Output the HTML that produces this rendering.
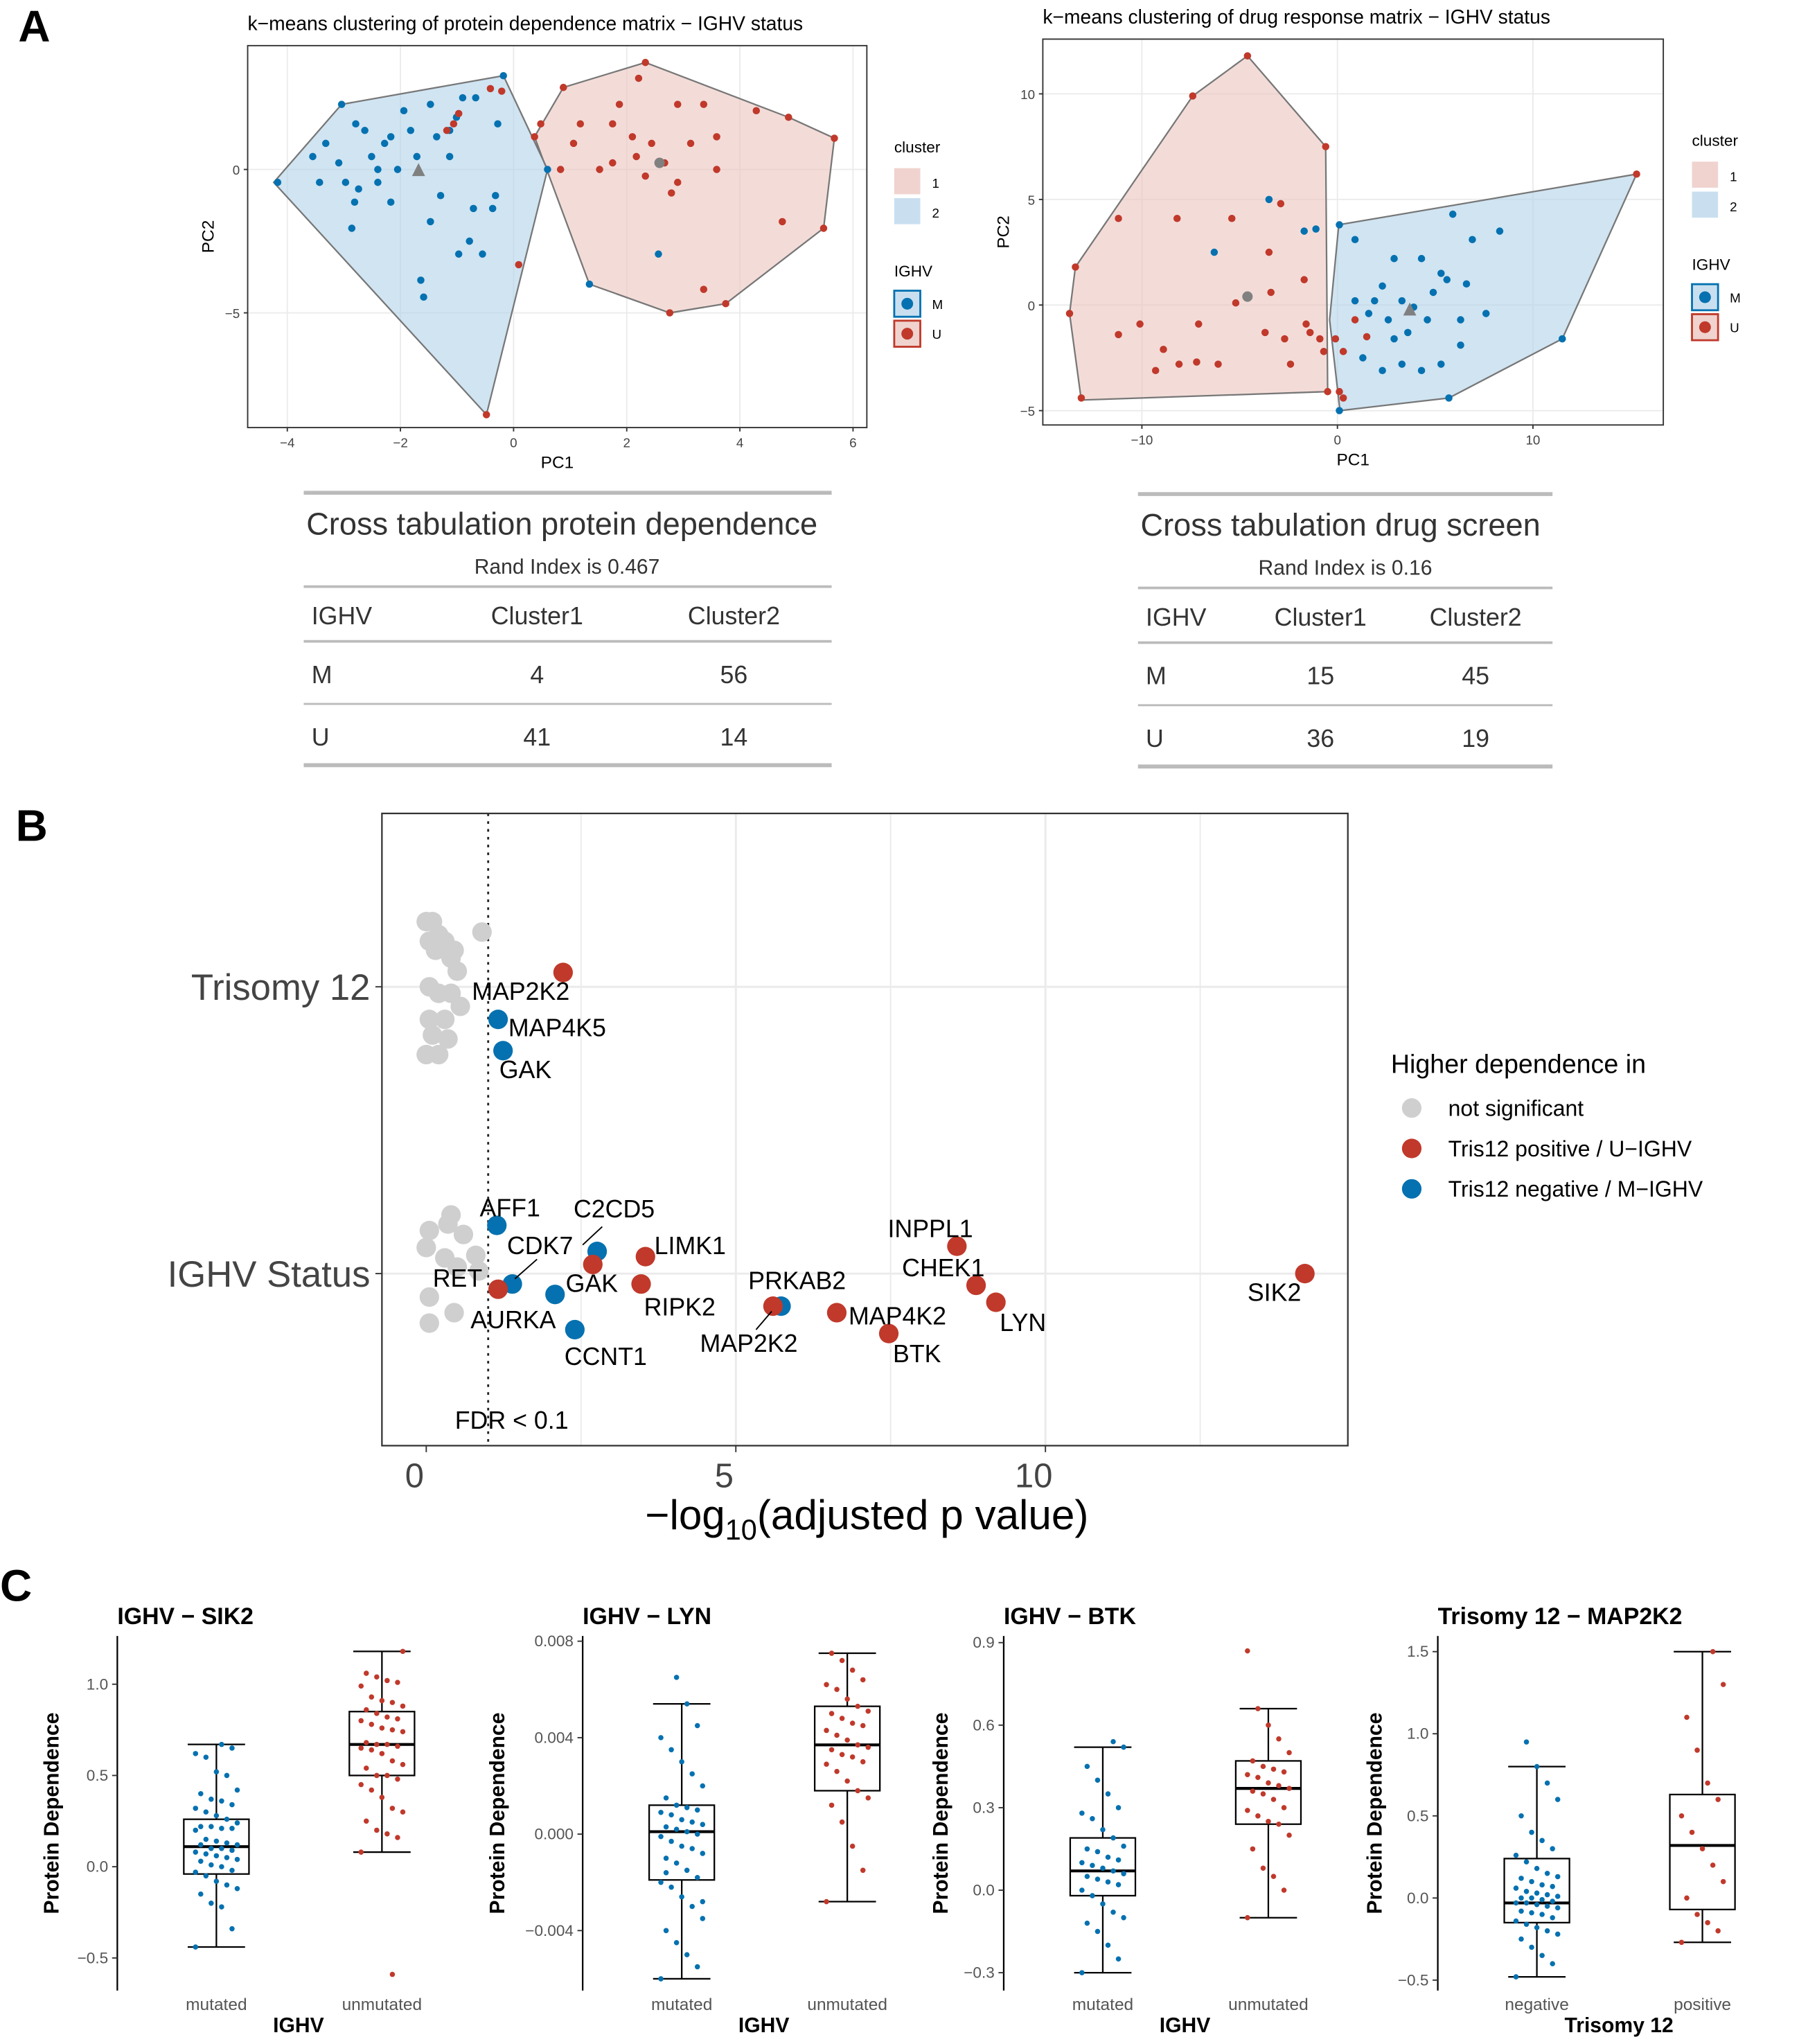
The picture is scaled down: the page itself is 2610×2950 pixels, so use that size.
<!DOCTYPE html>
<html><head><meta charset="utf-8"><style>
html,body{margin:0;padding:0;background:#fff}
svg{display:block;font-family:"Liberation Sans",sans-serif}
</style></head><body>
<svg id="fig" width="2610" height="2950" viewBox="0 0 1387 1568" preserveAspectRatio="none" xmlns="http://www.w3.org/2000/svg"></svg>
<script>
// ---------- DATA ----------
// Panel A left (protein dependence PCA)
const aLeftBlueX=[-3.04,-4.17,-2.79,-3.32,-2.97,-2.81,-2.86,-2.17,-1.82,-2.4,-2.05,-1.71,-1.13,-1.01,-1.29,-0.32,-0.37,-0.71,-0.78,-0.55,-1.64,-1.59,-1.13,-1.47,-1.94,-2.51,-3.55,-3.09,-2.4,-2.17,-0.9,-0.28,-0.67,-2.63,-1.36,-2.28,-3.43,-2.74,-1.47,-0.97,-0.18,0.6,2.56,1.34];
const aLeftBlueY=[2.27,-0.45,1.59,0.91,-0.45,-1.14,-2.05,1.14,1.36,0,0,0.45,1.36,1.82,-0.91,-0.91,-1.36,-1.36,-2.5,-2.95,-3.86,-4.45,0.45,2.27,2.05,0.45,0.45,0.23,-0.45,-1.14,2.5,1.59,2.5,1.36,1.14,0.91,-0.45,-0.68,-1.82,-2.95,3.27,0,-2.95,-4];
const aLeftRedX=[-0.41,-0.21,-1.18,-1.06,-0.97,-0.48,0.09,0.88,2.33,4.86,5.67,5.48,3.75,2.76,0.37,2.21,2.9,3.36,2.1,1.75,2.44,2.67,2.9,2.79,2.33,3.59,3.59,1.52,0.83,1.06,4.29,4.75,3.36,1.75,1.87,1.18,0.48,2.17,3.13];
const aLeftRedY=[2.82,2.73,1.36,1.59,1.95,-8.55,-3.32,2.86,3.73,1.82,1.09,-2.05,-4.68,-5,1.14,3.18,2.27,2.27,1.14,1.59,0.91,0.23,-0.45,-0.82,-0.23,1.14,0,0,0,0.91,2.05,-1.82,-4.18,0.23,2.27,1.59,1.59,0.45,0.91];
const aLeftHull2X=[-4.24,-3.04,-0.18,0.6,-0.48];
const aLeftHull2Y=[-0.45,2.27,3.27,0,-8.55];
const aLeftHull1X=[0.88,2.33,4.86,5.67,5.48,3.75,2.76,1.34,0.37];
const aLeftHull1Y=[2.86,3.73,1.82,1.09,-2.05,-4.68,-5,-4,1.14];
const aLeftTicksX=[-4,-2,0,2,4,6];
const aLeftTicksY=[0,-5];
// Panel A right (drug response PCA)
const aRightRedX=[-4.6,-7.4,-13.4,-13.7,-13.1,-0.5,-0.6,-11.2,-8.2,-5.4,-2.9,-3.5,-1.7,-4.6,-7.1,-10.1,-11.2,-8.9,-8.1,-6.1,-7.2,-9.3,-3.4,-3.7,-2.7,-2.4,-1.4,-0.9,-0.7,-0.1,0.1,0.3,0.3,1.5,0.9,15.3,-5.2,-1.6];
const aRightRedY=[11.8,9.9,1.8,-0.4,-4.4,-4.1,7.5,4.1,4.1,4.1,4.8,2.5,1.2,0.4,-0.9,-0.9,-1.4,-2.1,-2.8,-2.8,-2.7,-3.1,0.6,-1.3,-1.6,-2.8,-1.3,-1.6,-2.2,-1.6,-4.1,-4.4,-2.2,-1.5,-0.7,6.2,0.1,-0.9];
const aRightBlueX=[0.1,11.5,5.7,0.1,-3.5,-1.7,-1.1,-6.3,0.9,2.9,4.3,5.9,6.9,8.3,2.3,3.3,3.9,4.6,1.6,2.6,3.6,4.9,5.6,6.6,7.6,6.3,5.3,4.3,3.3,2.3,1.3,6.3,2.9,0.9,1.9,5.3];
const aRightBlueY=[3.8,-1.6,-4.4,-5,5,3.5,3.6,2.5,3.1,2.2,2.2,4.3,3.1,3.5,0.9,0.2,-0.1,-0.7,-0.4,-0.7,-1.3,0.6,1.2,1,-0.4,-1.9,-2.8,-3.1,-2.8,-3.1,-2.5,-0.7,-1.6,0.2,0.2,1.5];
const aRightHull1X=[-4.6,-0.6,-0.5,-13.1,-13.7,-13.4,-7.4];
const aRightHull1Y=[11.8,7.5,-4.1,-4.5,-0.4,1.8,9.9];
const aRightHull2X=[0.07,15.3,11.5,5.7,0.13,-0.4];
const aRightHull2Y=[3.8,6.2,-1.6,-4.4,-5,-0.7];
const aRightTicksX=[-10,0,10];
const aRightTicksY=[10,5,0,-5];
// Panel B
const bCategories=["Trisomy 12","IGHV Status"];
const bGrayX=[0,0.1,0.2,0.05,0.3,0.15,0.45,0.4,0.9,0.5,0.05,0.2,0.4,0.55,0.05,0.3,0.1,0.35,0,0.2,0.4,0.35,0.05,0.6,0,0.3,0.5,0.8,0.85,0.05,0.45,0.05];
const bGrayRow=[0,0,0,0,0,0,0,0,0,0,0,0,0,0,0,0,0,0,0,0,1,1,1,1,1,1,1,1,1,1,1,1];
const bGrayDy=[-50,-50,-40,-35,-35,-28,-28,-22,-42,-12,0,5,5,15,25,25,37,40,52,52,-45,-38,-33,-30,-20,-12,-5,-14,-2,18,30,38];
const bGenes=["MAP2K2","MAP4K5","GAK","AFF1","C2CD5","CDK7","RET","GAK","LIMK1","RIPK2","AURKA","CCNT1","PRKAB2","MAP2K2","MAP4K2","BTK","INPPL1","CHEK1","LYN","SIK2"];
const bValues=[2.21,1.16,1.24,1.14,2.76,1.39,1.16,2.69,3.54,3.47,2.08,2.4,5.73,5.6,6.63,7.47,8.57,8.88,9.2,14.19];
const bRow=[0,0,0,1,1,1,1,1,1,1,1,1,1,1,1,1,1,1,1,1];
const bGroup=[1,2,2,2,2,2,1,1,1,1,2,2,2,1,1,1,1,1,1,1];
const bDy=[-11,25,49,-37,-17,8,12,-7,-13,8,16,43,25,25,30,46,-21,9,22,0];
const bTicks=[0,5,10];
// Panel C
const cTitles=["IGHV − SIK2","IGHV − LYN","IGHV − BTK","Trisomy 12 − MAP2K2"];
const cGroupLabels=[["mutated","unmutated"],["mutated","unmutated"],["mutated","unmutated"],["negative","positive"]];
const cXTitles=["IGHV","IGHV","IGHV","Trisomy 12"];
const cTickVals=[[1.0,0.5,0.0,-0.5],[0.008,0.004,0.000,-0.004],[0.9,0.6,0.3,0.0,-0.3],[1.5,1.0,0.5,0.0,-0.5]];
const cTickLabels=[["1.0","0.5","0.0","−0.5"],["0.008","0.004","0.000","−0.004"],["0.9","0.6","0.3","0.0","−0.3"],["1.5","1.0","0.5","0.0","−0.5"]];
const cStats=[
 [[-0.44,-0.04,0.11,0.26,0.67],[0.08,0.5,0.67,0.85,1.18]],
 [[-0.006,-0.0019,0.0001,0.0012,0.0054],[-0.0028,0.0018,0.0037,0.0053,0.0075]],
 [[-0.3,-0.02,0.07,0.19,0.52],[-0.1,0.24,0.37,0.47,0.66]],
 [[-0.48,-0.15,-0.03,0.24,0.8],[-0.27,-0.07,0.32,0.63,1.5]]
];
const sik2Mut=[-0.44,-0.34,-0.22,-0.2,-0.15,-0.12,-0.1,-0.08,-0.05,-0.03,-0.02,0,0.01,0.03,0.04,0.05,0.06,0.07,0.08,0.09,0.1,0.1,0.12,0.12,0.13,0.14,0.15,0.2,0.21,0.21,0.22,0.22,0.24,0.26,0.28,0.3,0.32,0.34,0.36,0.37,0.4,0.42,0.5,0.52,0.6,0.62,0.65,0.67];
const sik2Unm=[0.08,0.16,0.18,0.2,0.25,0.3,0.32,0.38,0.42,0.45,0.48,0.5,0.5,0.54,0.56,0.58,0.62,0.64,0.65,0.66,0.67,0.67,0.68,0.74,0.75,0.76,0.78,0.8,0.81,0.82,0.84,0.86,0.88,0.9,0.91,0.93,0.99,1.01,1.02,1.04,1.06,1.18,-0.59];
const lynMut=[-0.006,-0.0055,-0.005,-0.0045,-0.004,-0.0035,-0.003,-0.0026,-0.0022,-0.002,-0.0018,-0.0015,-0.0012,-0.001,-0.0008,-0.0006,-0.0005,-0.0003,-0.0001,0,0.0001,0.0002,0.0003,0.0004,0.0005,0.0006,0.0008,0.0009,0.001,0.0011,0.0012,0.0015,0.002,0.0025,0.003,0.0035,0.004,0.0045,0.0054,0.0065,-0.0016,-0.0028];
const lynUnm=[-0.0028,-0.0015,-0.0005,0.0005,0.0012,0.0015,0.0018,0.0022,0.0026,0.0029,0.003,0.0032,0.0033,0.0035,0.0036,0.0037,0.0039,0.0041,0.0043,0.0045,0.0046,0.0048,0.005,0.0051,0.0053,0.0056,0.006,0.0062,0.0064,0.0068,0.0072,0.0075];
const btkMut=[-0.3,-0.25,-0.2,-0.15,-0.12,-0.1,-0.08,-0.05,-0.02,0,0.02,0.03,0.04,0.05,0.06,0.07,0.08,0.09,0.1,0.11,0.12,0.14,0.15,0.16,0.19,0.22,0.26,0.28,0.3,0.35,0.4,0.45,0.52,0.54];
const btkUnm=[-0.1,0,0.05,0.08,0.15,0.2,0.24,0.25,0.27,0.29,0.3,0.33,0.35,0.36,0.37,0.38,0.39,0.41,0.42,0.43,0.44,0.45,0.47,0.5,0.55,0.6,0.66,0.87];
const mapNeg=[-0.48,-0.4,-0.35,-0.3,-0.25,-0.22,-0.2,-0.18,-0.16,-0.14,-0.12,-0.1,-0.09,-0.08,-0.06,-0.05,-0.04,-0.03,-0.03,-0.02,-0.01,0,0,0.01,0.02,0.03,0.04,0.06,0.07,0.08,0.1,0.12,0.13,0.15,0.18,0.22,0.26,0.3,0.35,0.4,0.5,0.6,0.7,0.8,0.95];
const mapPos=[-0.27,-0.2,-0.15,-0.1,0,0.1,0.2,0.3,0.4,0.5,0.6,0.7,0.9,1.1,1.3,1.5];
const cDots=[[sik2Mut,sik2Unm],[lynMut,lynUnm],[btkMut,btkUnm],[mapNeg,mapPos]];

// ---------- HELPERS ----------
const NS="http://www.w3.org/2000/svg";
const svg=document.getElementById("fig");
function mk(tag,attrs,name,parent,text){
  const el=document.createElementNS(NS,tag);
  for(const k in attrs) el.setAttribute(k,attrs[k]);
  
  
  if(text!==undefined) el.textContent=text;
  (parent||svg).appendChild(el);
  return el;
}
const BLUE="#0571b0", RED="#c0392b";

mk("text",{x:14,y:32,"font-size":34,"font-weight":"bold"},"panel-label-a",svg,"A");
mk("text",{x:12,y:645,"font-size":34,"font-weight":"bold"},"panel-label-b",svg,"B");
mk("text",{x:0,y:1228,"font-size":34,"font-weight":"bold"},"panel-label-c",svg,"C");

// ---------- PANEL A scatter ----------
function pcaPlot(o){
  const g=mk("g",{},o.name);
  const sx=v=>o.x0+v*o.kx, sy=v=>o.y0-v*o.ky;
  mk("rect",{x:o.L,y:o.T,width:o.R-o.L,height:o.B-o.T,fill:"#fff"},"plot-background",g);
  o.ticksX.forEach(t=>{mk("line",{x1:sx(t),x2:sx(t),y1:o.T,y2:o.B,stroke:"#ebebeb","stroke-width":1},"grid-x",g);});
  o.ticksY.forEach(t=>{mk("line",{x1:o.L,x2:o.R,y1:sy(t),y2:sy(t),stroke:"#ebebeb","stroke-width":1},"grid-y",g);});
  const hull=(X,Y,fill,nm)=>mk("polygon",{points:X.map((x,i)=>sx(x)+","+sy(Y[i])).join(" "),fill:fill,"fill-opacity":0.62,stroke:"#777","stroke-width":1.2},nm,g);
  hull(o.h1x,o.h1y,"#ebc6c0","hull-cluster-1");
  hull(o.h2x,o.h2y,"#b3d3ea","hull-cluster-2");
  o.bx.forEach((x,i)=>mk("circle",{cx:sx(x),cy:sy(o.by[i]),r:2.8,fill:BLUE},"point-m",g));
  o.rx.forEach((x,i)=>mk("circle",{cx:sx(x),cy:sy(o.ry[i]),r:2.8,fill:RED},"point-u",g));
  const t=o.tri; mk("polygon",{points:`${sx(t[0])},${sy(t[1])-6} ${sx(t[0])-5},${sy(t[1])+4} ${sx(t[0])+5},${sy(t[1])+4}`,fill:"#808080"},"centroid-triangle",g);
  mk("circle",{cx:sx(o.cir[0]),cy:sy(o.cir[1]),r:4,fill:"#808080"},"centroid-circle",g);
  mk("rect",{x:o.L,y:o.T,width:o.R-o.L,height:o.B-o.T,fill:"none",stroke:"#333","stroke-width":1},"plot-border",g);
  o.ticksX.forEach(t=>{mk("line",{x1:sx(t),x2:sx(t),y1:o.B,y2:o.B+3,stroke:"#333"},"tick-x",g);
    mk("text",{x:sx(t),y:o.B+15,"font-size":10,"text-anchor":"middle",fill:"#444"},"tick-label-x",g,t<0?"−"+(-t):""+t);});
  o.ticksY.forEach(t=>{mk("line",{x1:o.L-3,x2:o.L,y1:sy(t),y2:sy(t),stroke:"#333"},"tick-y",g);
    mk("text",{x:o.L-6,y:sy(t)+4,"font-size":10,"text-anchor":"end",fill:"#444"},"tick-label-y",g,t<0?"−"+(-t):""+t);});
  mk("text",{x:(o.L+o.R)/2,y:o.B+31,"font-size":13,"text-anchor":"middle"},"x-axis-title",g,"PC1");
  mk("text",{x:o.L-26,y:(o.T+o.B)/2,"font-size":13,"text-anchor":"middle",transform:`rotate(-90 ${o.L-26} ${(o.T+o.B)/2})`},"y-axis-title",g,"PC2");
  mk("text",{x:o.titleX,y:o.T-12,"font-size":15},"plot-title",g,o.title);
  const lx=o.lx, ly=o.ly;
  mk("text",{x:lx,y:ly,"font-size":12},"legend-title-cluster",g,"cluster");
  mk("rect",{x:lx,y:ly+12,width:20,height:20,fill:"#f0d3ce"},"legend-key-cluster-1",g);
  mk("text",{x:lx+29,y:ly+27,"font-size":10},"legend-label",g,"1");
  mk("rect",{x:lx,y:ly+35,width:20,height:20,fill:"#c9dff0"},"legend-key-cluster-2",g);
  mk("text",{x:lx+29,y:ly+50,"font-size":10},"legend-label",g,"2");
  mk("text",{x:lx,y:ly+95,"font-size":12},"legend-title-ighv",g,"IGHV");
  mk("rect",{x:lx,y:ly+106,width:20,height:20,fill:"#c9dff0",stroke:BLUE,"stroke-width":1.5},"legend-key-m",g);
  mk("circle",{cx:lx+10,cy:ly+116,r:4.5,fill:BLUE},"legend-dot-m",g);
  mk("text",{x:lx+29,y:ly+120,"font-size":10},"legend-label",g,"M");
  mk("rect",{x:lx,y:ly+129,width:20,height:20,fill:"#f0d3ce",stroke:RED,"stroke-width":1.5},"legend-key-u",g);
  mk("circle",{cx:lx+10,cy:ly+139,r:4.5,fill:RED},"legend-dot-u",g);
  mk("text",{x:lx+29,y:ly+143,"font-size":10},"legend-label",g,"U");
}
pcaPlot({name:"pca-protein-dependence",L:190,R:665,T:35,B:328,x0:394,kx:43.4,y0:130,ky:22,
 ticksX:aLeftTicksX,ticksY:aLeftTicksY,h1x:aLeftHull1X,h1y:aLeftHull1Y,h2x:aLeftHull2X,h2y:aLeftHull2Y,
 bx:aLeftBlueX,by:aLeftBlueY,rx:aLeftRedX,ry:aLeftRedY,tri:[-1.68,-0.05],cir:[2.58,0.23],
 title:"k−means clustering of protein dependence matrix − IGHV status",titleX:190,lx:686,ly:117});
pcaPlot({name:"pca-drug-response",L:800,R:1276,T:30,B:326,x0:1026,kx:15,y0:234,ky:16.2,
 ticksX:aRightTicksX,ticksY:aRightTicksY,h1x:aRightHull1X,h1y:aRightHull1Y,h2x:aRightHull2X,h2y:aRightHull2Y,
 bx:aRightBlueX,by:aRightBlueY,rx:aRightRedX,ry:aRightRedY,tri:[3.7,-0.25],cir:[-4.6,0.4],
 title:"k−means clustering of drug response matrix − IGHV status",titleX:800,lx:1298,ly:112});

// ---------- TABLES ----------
function table(o){
  const g=mk("g",{},o.name);
  const line=(y,w)=>mk("line",{x1:o.L,x2:o.R,y1:y,y2:y,stroke:"#bbb","stroke-width":w},"table-rule",g);
  line(378+o.dy,3);line(450+o.dy,2);line(492+o.dy,2);line(540+o.dy,1.5);line(587+o.dy,3);
  mk("text",{x:o.L+2,y:410+o.dy,"font-size":24,fill:"#333"},"table-title",g,o.title);
  mk("text",{x:o.rx,y:440+o.dy,"font-size":16,"text-anchor":"middle",fill:"#333"},"rand-index",g,o.rand);
  const col=(x,y,t,a,n)=>mk("text",{x:x,y:y+o.dy,"font-size":19,"text-anchor":a,fill:"#333"},n,g,t);
  col(o.L+6,479,"IGHV","start","header-ighv");col(o.c1,479,"Cluster1","middle","header-cluster1");col(o.c2,479,"Cluster2","middle","header-cluster2");
  col(o.L+6,524,"M","start","row-m");col(o.c1,524,o.v[0],"middle","cell");col(o.c2,524,o.v[1],"middle","cell");
  col(o.L+6,572,"U","start","row-u");col(o.c1,572,o.v[2],"middle","cell");col(o.c2,572,o.v[3],"middle","cell");
}
table({name:"table-protein-dependence",L:233,R:638,dy:0,title:"Cross tabulation protein dependence",rand:"Rand Index is 0.467",rx:435,c1:412,c2:563,v:["4","56","41","14"]});
table({name:"table-drug-screen",L:873,R:1191,dy:1,title:"Cross tabulation drug screen",rand:"Rand Index is 0.16",rx:1032,c1:1013,c2:1132,v:["15","45","36","19"]});

// ---------- PANEL B ----------
(function(){
  const g=mk("g",{},"significance-plot");
  const L=293,R=1034,T=624,B=1109;
  const sx=v=>327+v*47.5;
  const rowY=[757,977];
  mk("rect",{x:L,y:T,width:R-L,height:B-T,fill:"#fff"},"plot-background",g);
  [2.5,5,7.5,10,12.5].forEach(t=>mk("line",{x1:sx(t),x2:sx(t),y1:T,y2:B,stroke:"#ebebeb","stroke-width":t%5==0?1.6:1},"grid-x",g));
  rowY.forEach(y=>mk("line",{x1:L,x2:R,y1:y,y2:y,stroke:"#ebebeb","stroke-width":1.6},"grid-y",g));
  mk("line",{x1:sx(1),x2:sx(1),y1:T,y2:B,stroke:"#222","stroke-width":1.5,"stroke-dasharray":"2,4"},"fdr-threshold-line",g);
  bGrayX.forEach((x,i)=>mk("circle",{cx:sx(x),cy:rowY[bGrayRow[i]]+bGrayDy[i],r:7.5,fill:"#cfcfcf"},"point-not-significant",g));
  bValues.forEach((v,i)=>mk("circle",{cx:sx(v),cy:rowY[bRow[i]]+bDy[i],r:7.5,fill:bGroup[i]==1?RED:BLUE},"point-"+bGenes[i].toLowerCase(),g));
  const labs=[["MAP2K2",362,767],["MAP4K5",390,795],["GAK",383,827],["AFF1",368,933],["C2CD5",440,934],["CDK7",389,962],["RET",332,987],["GAK",434,991],["LIMK1",502,962],["RIPK2",494,1009],["AURKA",361,1019],["CCNT1",433,1047],["PRKAB2",574,989],["MAP2K2",537,1037],["MAP4K2",651,1016],["BTK",685,1045],["INPPL1",681,949],["CHEK1",692,979],["LYN",767,1021],["SIK2",957,998]];
  labs.forEach(l=>mk("text",{x:l[1],y:l[2],"font-size":19,fill:"#000"},"gene-label",g,l[0]));
  mk("line",{x1:395,x2:412,y1:981,y2:966,stroke:"#000"},"label-connector",g);
  mk("line",{x1:447,x2:462,y1:955,y2:941,stroke:"#000"},"label-connector",g);
  mk("line",{x1:580,x2:592,y1:1020,y2:1006,stroke:"#000"},"label-connector",g);
  mk("text",{x:349,y:1096,"font-size":19},"fdr-label",g,"FDR < 0.1");
  mk("rect",{x:L,y:T,width:R-L,height:B-T,fill:"none",stroke:"#333","stroke-width":1.2},"plot-border",g);
  bTicks.forEach(t=>{mk("line",{x1:sx(t),x2:sx(t),y1:B,y2:B+5,stroke:"#333"},"tick-x",g);
    mk("text",{x:sx(t)-9,y:B+32,"font-size":26,"text-anchor":"middle",fill:"#444"},"tick-label-x",g,""+t);});
  bCategories.forEach((c,i)=>{mk("line",{x1:L-5,x2:L,y1:rowY[i],y2:rowY[i],stroke:"#333"},"tick-y",g);
    mk("text",{x:L-9,y:rowY[i]+10,"font-size":28,"text-anchor":"end",fill:"#444"},"category-label",g,c);});
  const xt=mk("text",{x:665,y:1173,"font-size":32,"text-anchor":"middle"},"x-axis-title",g,"−log");
  mk("tspan",{"font-size":22,dy:8},"subscript",xt,"10");
  mk("tspan",{dy:-8},"title-rest",xt,"(adjusted p value)");
  mk("text",{x:1067,y:823,"font-size":20},"legend-title",g,"Higher dependence in");
  [["not significant","#cfcfcf"],["Tris12 positive / U−IGHV",RED],["Tris12 negative / M−IGHV",BLUE]].forEach((e,i)=>{
    mk("circle",{cx:1083,cy:850+i*31,r:7.5,fill:e[1]},"legend-entry-marker",g);
    mk("text",{x:1111,y:856+i*31,"font-size":17},"legend-entry-label",g,e[0]);});
})();

// ---------- PANEL C ----------
const cAxisX=[90,447,770,1103];
const cTitleOff=[45,60,43,43];
const cScale=[[1432,140],[1407,18500],[1450,211],[1456,126]];
cTitles.forEach((title,p)=>{
  const g=mk("g",{},"boxplot-panel-"+(p+1));
  const ax=cAxisX[p];
  const sy=v=>cScale[p][0]-v*cScale[p][1];
  const gx=[ax+76,ax+203];
  mk("text",{x:ax,y:1246,"font-size":18,"font-weight":"bold"},"panel-title",g,title);
  mk("line",{x1:ax,x2:ax,y1:1255,y2:1527,stroke:"#000","stroke-width":1.2},"y-axis-line",g);
  cTickVals[p].forEach((t,i)=>{mk("line",{x1:ax-4,x2:ax,y1:sy(t),y2:sy(t),stroke:"#333"},"tick-y",g);
    mk("text",{x:ax-7,y:sy(t)+4,"font-size":12,"text-anchor":"end",fill:"#555"},"tick-label-y",g,cTickLabels[p][i]);});
  const tx=ax-cTitleOff[p];
  mk("text",{x:tx,y:1391,"font-size":16,"font-weight":"bold","text-anchor":"middle",transform:`rotate(-90 ${tx} 1391)`},"y-axis-title",g,"Protein Dependence");
  [0,1].forEach(k=>{
    const s=cStats[p][k], x=gx[k], col=k==0?BLUE:RED;
    mk("line",{x1:x,x2:x,y1:sy(s[0]),y2:sy(s[4]),stroke:"#000","stroke-width":1.2},"whisker",g);
    mk("line",{x1:x-22,x2:x+22,y1:sy(s[0]),y2:sy(s[0]),stroke:"#000","stroke-width":1.2},"whisker-cap",g);
    mk("line",{x1:x-22,x2:x+22,y1:sy(s[4]),y2:sy(s[4]),stroke:"#000","stroke-width":1.2},"whisker-cap",g);
    mk("rect",{x:x-25,y:sy(s[3]),width:50,height:sy(s[1])-sy(s[3]),fill:"#fff",stroke:"#000","stroke-width":1.2},"box-"+cGroupLabels[p][k],g);
    mk("line",{x1:x-25,x2:x+25,y1:sy(s[2]),y2:sy(s[2]),stroke:"#000","stroke-width":2.2},"median-line",g);
    cDots[p][k].forEach((v,i)=>{
      const off=((i*7)%9-4)*4;
      mk("circle",{cx:x+off,cy:sy(v),r:2,fill:col},"data-point",g);});
    mk("text",{x:x,y:1542,"font-size":13,"text-anchor":"middle",fill:"#555"},"x-tick-label",g,cGroupLabels[p][k]);
  });
  mk("text",{x:ax+139,y:1559,"font-size":16,"font-weight":"bold","text-anchor":"middle"},"x-axis-title",g,cXTitles[p]);
});
</script>
</body></html>
